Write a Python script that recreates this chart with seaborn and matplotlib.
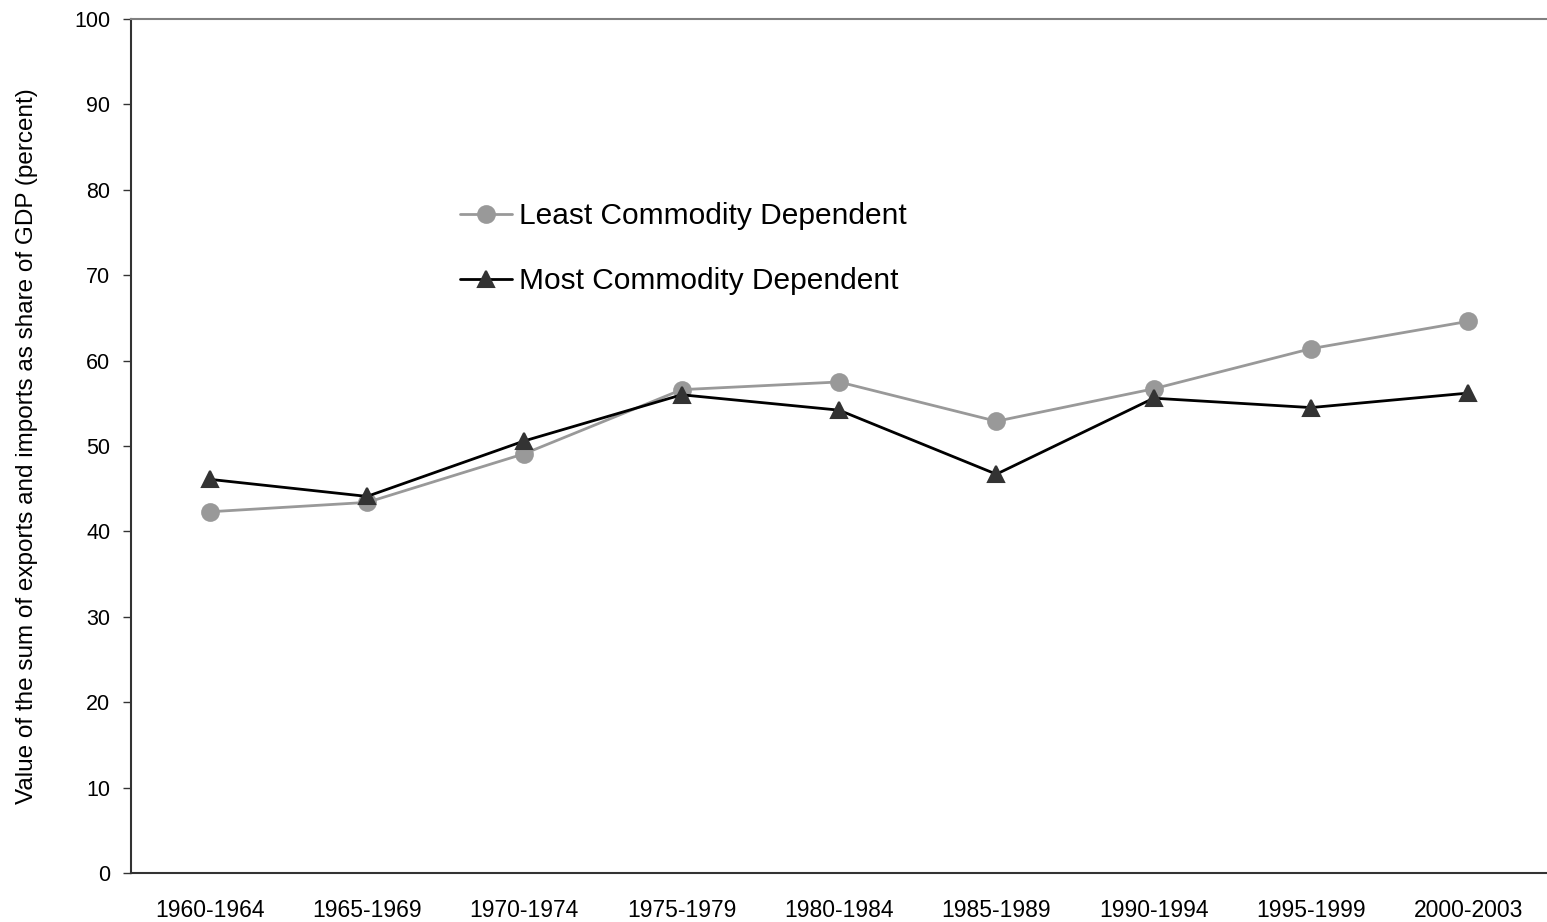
import pandas as pd
import seaborn as sns
import matplotlib.pyplot as plt

periods = ['1960-1964', '1965-1969', '1970-1974', '1975-1979', '1980-1984',
           '1985-1989', '1990-1994', '1995-1999', '2000-2003']
least = [42.3, 43.4, 49.1, 56.6, 57.5, 52.9, 56.7, 61.4, 64.6]
most = [46.1, 44.1, 50.6, 56.0, 54.2, 46.7, 55.6, 54.5, 56.2]

sns.set_style('white')
plt.rcParams['font.family'] = ['Liberation Sans', 'DejaVu Sans']
plt.rcParams['text.color'] = 'black'
plt.rcParams['axes.labelcolor'] = 'black'

fig = plt.figure(figsize=(15.47, 9.22), dpi=100)
ax = fig.add_axes([0.0847, 0.0531, 0.9153, 0.9263])

df = pd.DataFrame({'Period': periods, 'Least': least, 'Most': most})

sns.pointplot(data=df, x='Period', y='Least', color='#999999', marker='o',
              markersize=12, linewidth=2, label='Least Commodity Dependent', ax=ax)
sns.pointplot(data=df, x='Period', y='Most', color='#000000', marker='^',
              markersize=12, linewidth=2, markerfacecolor='#333333',
              markeredgecolor='#333333', label='Most Commodity Dependent', ax=ax)

ax.set_ylim(0, 100)
ax.set_xlim(-0.5, 8.5)
ax.set_yticks(range(0, 101, 10))
ax.set_xlabel('')
ax.set_ylabel('Value of the sum of exports and imports as share of GDP (percent)', fontsize=17.5)
ax.yaxis.set_label_coords(-0.066, 0.5)
ax.tick_params(axis='y', length=6, width=1, color='#333333', labelcolor='black',
               labelsize=15.5, pad=9, left=True)
ax.tick_params(axis='x', length=0, labelsize=16.5, labelcolor='black', pad=19)

ax.spines['right'].set_visible(False)
ax.spines['top'].set_color('#808080')
ax.spines['top'].set_linewidth(1.5)
for s in ['left', 'bottom']:
    ax.spines[s].set_color('#333333')
    ax.spines[s].set_linewidth(1.5)

ax.legend(loc='upper left', bbox_to_anchor=(0.213, 0.817), frameon=False,
          fontsize=21.5, handlelength=1.75, handletextpad=0.25, labelspacing=1.25)

plt.savefig('out.png', dpi=100)
